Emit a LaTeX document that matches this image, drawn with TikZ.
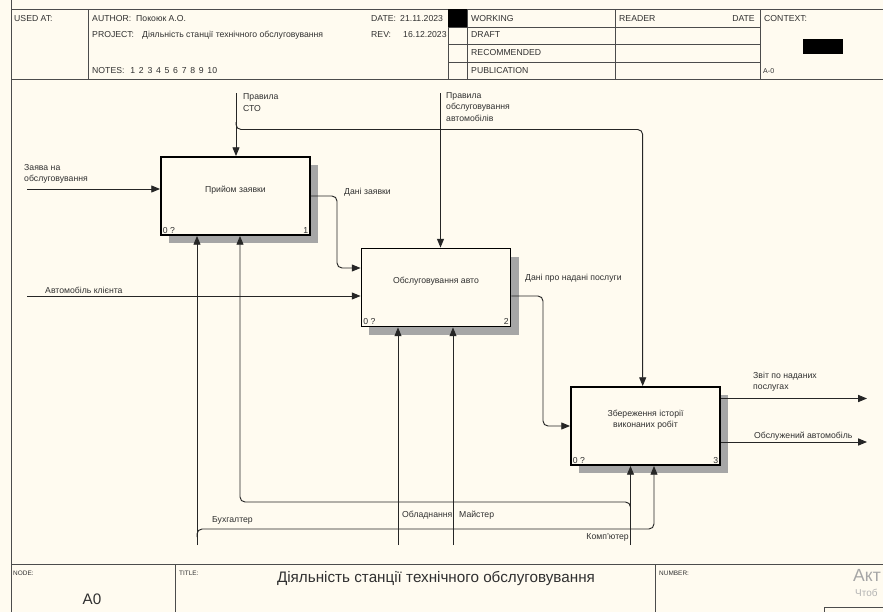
\documentclass[tikz,border=0pt]{standalone}
\usepackage{fontspec}
\setmainfont{Liberation Sans}
\usetikzlibrary{arrows.meta}
\usetikzlibrary{shadows}
\definecolor{paper}{HTML}{FFFBF0}
\definecolor{ink}{HTML}{303030}
\tikzset{
	actbox/.style={rectangle,draw=black,line width=1.6pt,fill=paper,minimum width=4.47cm,minimum height=2.34cm,inner sep=0pt,drop shadow={shadow xshift=0.24cm,shadow yshift=-0.24cm,opacity=1,fill=black!35}},
	boxtext/.style={font=\fontsize{7.4}{9.6}\selectfont,text=ink,align=center,yshift=0.18cm},
	numtext/.style={font=\fontsize{7.4}{8}\selectfont,text=ink,inner sep=2.2pt},
	arrowlabel/.style={font=\fontsize{7.4}{9.6}\selectfont,text=ink,align=left,inner sep=0pt,anchor=west},
	headtext/.style={font=\fontsize{7.4}{8}\selectfont,text=ink,inner sep=0pt,anchor=west},
	tinytext/.style={font=\fontsize{5.5}{6}\selectfont,text=ink,inner sep=0pt,anchor=west},
	flow/.style={draw=black!85,line width=0.8pt,-{Triangle[length=7.5pt,width=6pt]}},
	frameline/.style={draw=black!70,line width=0.8pt}
}

\begin{document}
\begin{tikzpicture}[x=0.03cm,y=-0.03cm]
		\fill[paper] (0,0) rectangle (883,612);
		\useasboundingbox (0,0) rectangle (883,612);
		% form frame
		\draw[frameline] (11,0)--(11,612);
		\draw[frameline] (11,9)--(883,9);
		\draw[frameline] (11,79)--(883,79);
		\draw[frameline] (88,9)--(88,79);
		\draw[frameline] (448,9)--(448,79);
		\draw[frameline] (467,9)--(467,79);
		\draw[frameline] (615,9)--(615,79);
		\draw[frameline] (760,9)--(760,79);
		\draw[frameline] (448,27)--(760,27);
		\draw[frameline] (448,44.5)--(760,44.5);
		\draw[frameline] (448,62)--(760,62);
		\fill[black] (448,9) rectangle (467,27);
		\fill[black] (803,39) rectangle (843,54);
		\draw[frameline] (11,564)--(883,564);
		\draw[frameline] (175,564)--(175,612);
		\draw[frameline] (655,564)--(655,612);
		\node[headtext] (usedat) at (14,18.5) {USED AT:};
		\node[headtext] (author) at (92,18.5) {AUTHOR:};
		\node[headtext] (authorval) at (136,18.5) {Покоюк А.О.};
		\node[headtext] (project) at (92,35) {PROJECT:};
		\node[headtext] (projectval) at (142,35) {Діяльність станції технічного обслуговування};
		\node[headtext] (notes) at (92,71) {NOTES:\hspace{5pt}1\hspace{3.2pt}2\hspace{3.2pt}3\hspace{3.2pt}4\hspace{3.2pt}5\hspace{3.2pt}6\hspace{3.2pt}7\hspace{3.2pt}8\hspace{3.2pt}9\hspace{3.2pt}10};
		\node[headtext] (date) at (371,18.5) {DATE:};
		\node[headtext] (dateval) at (400,18.5) {21.11.2023};
		\node[headtext] (rev) at (371,35) {REV:};
		\node[headtext] (revval) at (403,35) {16.12.2023};
		\node[headtext] (working) at (471,18.5) {WORKING};
		\node[headtext] (draft) at (471,35) {DRAFT};
		\node[headtext] (recommended) at (471,53) {RECOMMENDED};
		\node[headtext] (publication) at (471,71) {PUBLICATION};
		\node[headtext] (reader) at (619,18.5) {READER};
		\node[headtext,anchor=east] (readerdate) at (755,18.5) {DATE};
		\node[headtext] (context) at (764,18.5) {CONTEXT:};
		\node[headtext,font=\fontsize{6}{7}\selectfont] (azero) at (763,71) {A-0};
		% activities
		\node[actbox,label={[boxtext]center:Прийом заявки},label={[numtext,anchor=south west]south west:0 ?},label={[numtext,anchor=south east]south east:1}] (box1) at (235.5,196) {};
		\node[actbox,label={[boxtext]center:Обслуговування авто},label={[numtext,anchor=south west]south west:0 ?},label={[numtext,anchor=south east]south east:2}] (box2) at (436,287.5) {};
		\node[actbox,label={[boxtext]center:Збереження історії\\виконаних робіт},label={[numtext,anchor=south west]south west:0 ?},label={[numtext,anchor=south east]south east:3}] (box3) at (645.5,426) {};
		% inputs and controls
		\coordinate (zayava) at (27,189);
		\coordinate (avto) at (27,296);
		\coordinate (pravsto) at (236,93);
		\coordinate (stojoin) at (236,122);
		\coordinate (stoturn) at (642.7,129.5);
		\coordinate (pravobs) at (440.5,93);
		\draw[flow] (zayava)--(zayava -| box1.west);
		\draw[flow] (avto)--(avto -| box2.west);
		\draw[flow] (pravsto)--(pravsto |- box1.north);
		\draw[flow,rounded corners=0.15cm] (stojoin) |- (stoturn)--(stoturn |- box3.north);
		\draw[flow] (pravobs)--(pravobs |- box2.north);
		% outputs
		\coordinate (dani1) at (337,268);
		\coordinate (dani2) at (543,426);
		\coordinate (zvit) at (867,398.5);
		\coordinate (obsl) at (867,442);
		\draw[flow,rounded corners=0.15cm] (box1.east) -| (dani1)--(dani1 -| box2.west);
		\draw[flow,rounded corners=0.15cm] (box2.east |- avto) -| (dani2)--(dani2 -| box3.west);
		\draw[flow] (zvit -| box3.east)--(zvit);
		\draw[flow] (obsl -| box3.east)--(obsl);
		% mechanisms
		\coordinate (buh) at (197,545);
		\coordinate (buhjoin) at (197,537);
		\coordinate (buhturn) at (654,529);
		\coordinate (komp) at (630.5,545);
		\coordinate (kompjoin) at (630.5,510);
		\coordinate (kompturn) at (240,502);
		\coordinate (obl) at (398,545);
		\coordinate (majstr) at (453,545);
		\draw[flow] (buh)--(buh |- box1.south);
		\draw[flow,rounded corners=0.15cm] (buhjoin) |- (buhturn)--(buhturn |- box3.south);
		\draw[flow] (komp)--(komp |- box3.south);
		\draw[flow,rounded corners=0.15cm] (kompjoin) |- (kompturn)--(kompturn |- box1.south);
		\draw[flow] (obl)--(obl |- box2.south);
		\draw[flow] (majstr)--(majstr |- box2.south);
		% arrow labels
		\node[arrowlabel] (zayavalbl) at (24,174) {Заява на\\обслуговування};
		\node[arrowlabel] (avtolbl) at (45,290) {Автомобіль клієнта};
		\node[arrowlabel] (pravstolbl) at (243,102.5) {Правила\\СТО};
		\node[arrowlabel] (pravobslbl) at (446,107) {Правила\\обслуговування\\автомобілів};
		\node[arrowlabel] (dani1lbl) at (344,192) {Дані заявки};
		\node[arrowlabel] (dani2lbl) at (525,278.5) {Дані про надані послуги};
		\node[arrowlabel] (zvitlbl) at (753,381.5) {Звіт по наданих\\послугах};
		\node[arrowlabel] (obsllbl) at (754,436) {Обслужений автомобіль};
		\node[arrowlabel] (buhlbl) at (212,520) {Бухгалтер};
		\node[arrowlabel] (obllbl) at (402,515) {Обладнання};
		\node[arrowlabel] (majstrlbl) at (459,515) {Майстер};
		\node[arrowlabel,anchor=east] (komplbl) at (629,537) {Комп'ютер};
		% footer
		\node[tinytext] (nodelbl) at (13,573) {NODE:};
		\node[tinytext] (titlelbl) at (179,573) {TITLE:};
		\node[tinytext] (numberlbl) at (659,573) {NUMBER:};
		\node[font=\fontsize{13}{14}\selectfont,text=ink,inner sep=0pt] (nodeval) at (92,599) {A0};
		\node[font=\fontsize{13}{14}\selectfont,text=ink,inner sep=0pt] (titleval) at (436,578) {Діяльність станції технічного обслуговування};
		\node[font=\fontsize{15}{15}\selectfont,text=black!35,inner sep=0pt,anchor=west] (wmark) at (853,575) {Акт};
		\node[font=\fontsize{8.5}{9}\selectfont,text=black!30,inner sep=0pt,anchor=west] (wmarksub) at (855,593) {Чтоб};
		\draw[draw=black!70,line width=0.8pt] (883,607)--(824,607)--(824,612);
		\end{tikzpicture}
\end{document}
